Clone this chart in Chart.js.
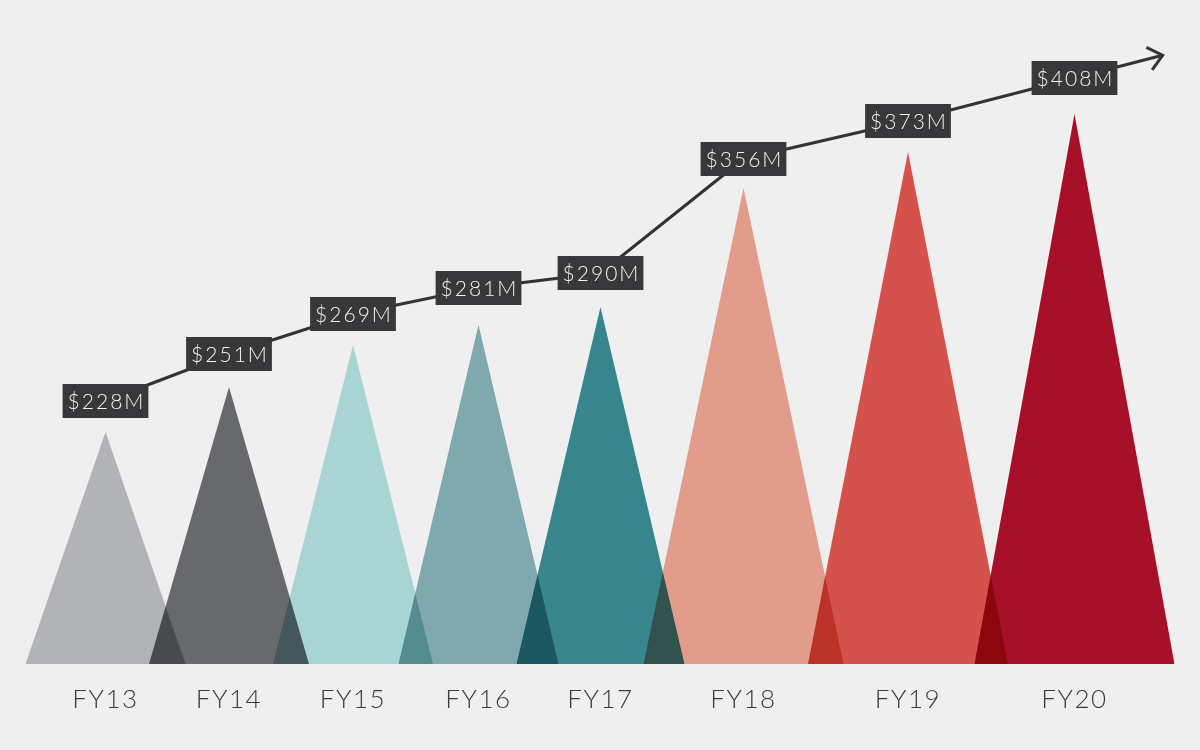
<!DOCTYPE html>
<html lang="en">

<head>
    <meta charset="UTF-8">
    <title>Revenue FY13-FY20</title>
    <script src="https://cdn.jsdelivr.net/npm/chart.js"></script>
    <style>
        body {
            margin: 0;
            background-color: #efefef;
        }

        .wrap {
            width: 1200px;
            height: 750px;
        }
    </style>
</head>

<body>
    <div class="wrap">
        <canvas id="revChart"></canvas>
    </div>

    <script>
        // data
        const years = ['FY13', 'FY14', 'FY15', 'FY16', 'FY17', 'FY18', 'FY19', 'FY20'];
        const revenue = [228, 251, 269, 281, 290, 356, 373, 408];        // $M, shown in the boxes
        const peakHeight = [232, 277, 319, 339, 357, 476, 512, 550];     // height of each triangle
        const trendLevel = [263, 310, 350, 376, 391, 505, 543, 586];     // height of the trend line

        // layout (not data): where each year sits and how wide its peak is
        const slot = [105.5, 229, 353, 478.5, 600.5, 743.5, 908, 1074.5];
        const halfWidth = [80, 80, 80, 80, 84, 100, 100, 100];
        const peakColors = ['#b2b3b7', '#68696d', '#a9d4d4', '#80a8af', '#37858d', '#e19c8b', '#d5514b', '#a61029'];

        const peakSets = years.map((y, i) => ({
            label: y,
            data: [
                { x: slot[i] - halfWidth[i], y: 0 },
                { x: slot[i], y: peakHeight[i] },
                { x: slot[i] + halfWidth[i], y: 0 }
            ],
            backgroundColor: peakColors[i],
            borderWidth: 0,
            pointRadius: 0,
            fill: 'origin',
            tension: 0,
            order: 10 - i
        }));

        const trendSet = {
            label: 'trend',
            data: slot.map((x, i) => ({ x: x, y: trendLevel[i] })),
            borderColor: '#333334',
            borderWidth: 3,
            pointRadius: 0,
            fill: false,
            tension: 0,
            clip: false,
            order: 0
        };

        // triangles overlap with a multiply look (canvas itself is transparent)
        const blendPlugin = {
            id: 'blend',
            beforeDraw(chart) {
                chart.ctx.letterSpacing = '1.5px';
            },
            beforeDatasetsDraw(chart) {
                chart.ctx.globalCompositeOperation = 'multiply';
            },
            afterDatasetsDraw(chart) {
                chart.ctx.globalCompositeOperation = 'source-over';
            }
        };

        // arrow head plus the dark value boxes
        const boxPlugin = {
            id: 'boxes',
            afterDatasetsDraw(chart) {
                const ctx = chart.ctx;
                const xs = chart.scales.x, ys = chart.scales.y;
                const n = slot.length;
                const px = i => xs.getPixelForValue(slot[i]);
                const py = i => ys.getPixelForValue(trendLevel[i]);

                // extend last segment to the arrow
                const dx = px(n - 1) - px(n - 2), dy = py(n - 1) - py(n - 2);
                const len = Math.hypot(dx, dy);
                const ux = dx / len, uy = dy / len;
                const tipX = px(n - 1) + ux * 91, tipY = py(n - 1) + uy * 91;
                ctx.save();
                ctx.globalCompositeOperation = 'source-over';
                ctx.strokeStyle = '#333334';
                ctx.lineWidth = 3;
                ctx.beginPath();
                ctx.moveTo(px(n - 1), py(n - 1));
                ctx.lineTo(tipX, tipY);
                ctx.stroke();
                const ang = Math.atan2(uy, ux);
                ctx.beginPath();
                ctx.moveTo(tipX - 18 * Math.cos(ang - 0.7), tipY - 18 * Math.sin(ang - 0.7));
                ctx.lineTo(tipX, tipY);
                ctx.lineTo(tipX - 18 * Math.cos(ang + 0.7), tipY - 18 * Math.sin(ang + 0.7));
                ctx.stroke();

                ctx.font = '300 21px Lato, "Open Sans", sans-serif';
                ctx.letterSpacing = '2px';
                ctx.textAlign = 'center';
                ctx.textBaseline = 'middle';
                revenue.forEach((v, i) => {
                    const txt = '$' + v + 'M';
                    const w = ctx.measureText(txt).width + 8;
                    const h = 34;
                    ctx.fillStyle = '#38383a';
                    ctx.fillRect(px(i) - w / 2, py(i) - h / 2, w, h);
                    ctx.fillStyle = '#f2f2f2';
                    ctx.fillText(txt, px(i) + 1, py(i) + 1);
                });
                ctx.restore();
            }
        };

        new Chart(document.getElementById('revChart'), {
            type: 'line',
            data: { datasets: [...peakSets, trendSet] },
            options: {
                responsive: true,
                maintainAspectRatio: false,
                animation: false,
                layout: { padding: 0 },
                plugins: {
                    legend: { display: false },
                    tooltip: { enabled: false }
                },
                scales: {
                    x: {
                        type: 'linear',
                        min: 0,
                        max: 1200,
                        grid: { display: false },
                        border: { display: false },
                        afterBuildTicks: axis => {
                            axis.ticks = slot.map(v => ({ value: v }));
                        },
                        afterFit: axis => {
                            axis.height = 86;
                        },
                        ticks: {
                            autoSkip: false,
                            maxRotation: 0,
                            padding: 12,
                            color: '#3a3a3a',
                            font: { family: 'Lato, "Open Sans", sans-serif', size: 26, weight: '300' },
                            callback: (v, i) => years[i]
                        }
                    },
                    y: {
                        display: false,
                        min: 0,
                        max: 664
                    }
                }
            },
            plugins: [blendPlugin, boxPlugin]
        });
    </script>
</body>

</html>
